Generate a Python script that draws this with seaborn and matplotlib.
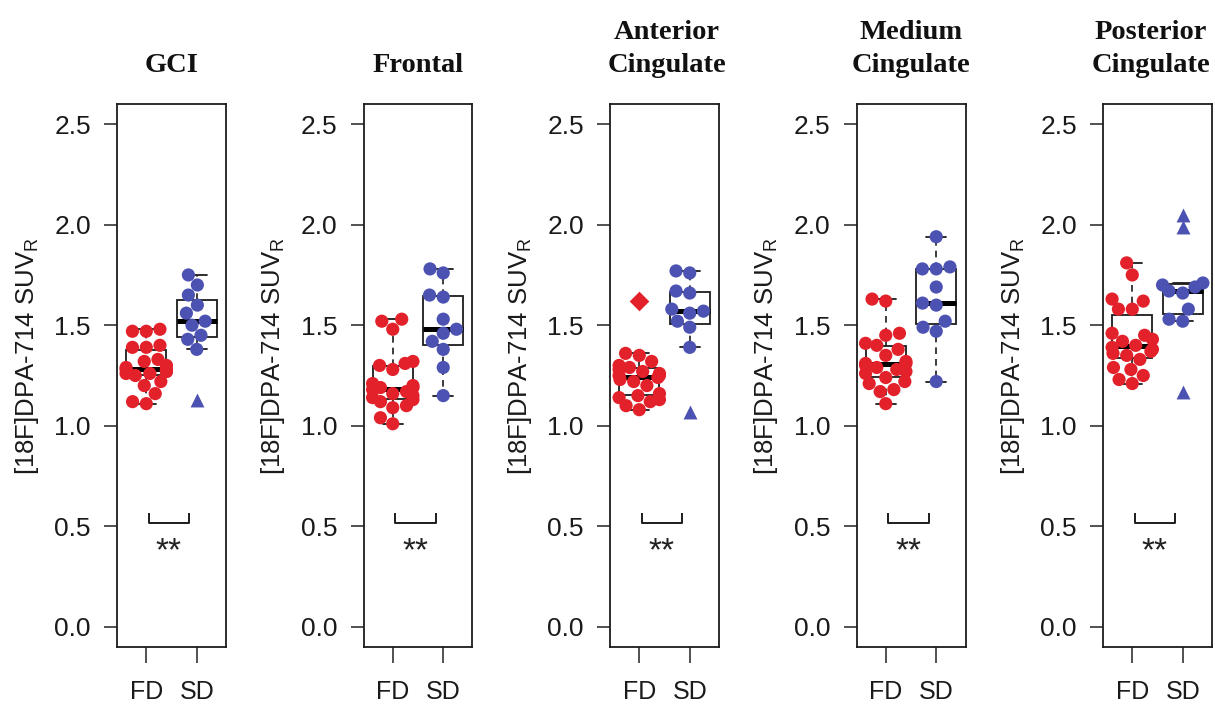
import numpy as np
import pandas as pd
import matplotlib
matplotlib.use("Agg")
import matplotlib.pyplot as plt
from matplotlib import font_manager
import seaborn as sns

# Regional [18F]DPA-714 uptake (SUV ratio) for the two groups
regions = ["GCI", "Frontal", "Anterior\nCingulate", "Medium\nCingulate", "Posterior\nCingulate"]
groups = ["FD", "SD"]

fd_gci = [1.11, 1.12, 1.16, 1.20, 1.22, 1.25, 1.26, 1.26, 1.27, 1.27, 1.28,
          1.28, 1.29, 1.30, 1.32, 1.33, 1.39, 1.39, 1.40, 1.47, 1.47, 1.48]
sd_gci = [1.75, 1.70, 1.65, 1.60, 1.56, 1.52, 1.50, 1.45, 1.43, 1.38, 1.13]

fd_frontal = [1.01, 1.04, 1.09, 1.10, 1.12, 1.13, 1.14, 1.15, 1.16, 1.17, 1.18,
              1.19, 1.19, 1.20, 1.21, 1.28, 1.30, 1.31, 1.32, 1.48, 1.52, 1.53]
sd_frontal = [1.78, 1.76, 1.65, 1.64, 1.53, 1.48, 1.46, 1.42, 1.38, 1.29, 1.15]

fd_anterior = [1.08, 1.10, 1.12, 1.13, 1.14, 1.15, 1.16, 1.20, 1.22, 1.23, 1.24,
               1.25, 1.25, 1.26, 1.27, 1.28, 1.29, 1.30, 1.32, 1.35, 1.36, 1.62]
sd_anterior = [1.77, 1.76, 1.67, 1.66, 1.58, 1.57, 1.56, 1.52, 1.49, 1.39, 1.07]

fd_medium = [1.11, 1.17, 1.18, 1.21, 1.22, 1.24, 1.26, 1.27, 1.28, 1.29, 1.30,
             1.31, 1.31, 1.32, 1.35, 1.38, 1.40, 1.41, 1.45, 1.46, 1.62, 1.63]
sd_medium = [1.94, 1.79, 1.78, 1.78, 1.69, 1.61, 1.60, 1.52, 1.49, 1.47, 1.22]

fd_posterior = [1.21, 1.23, 1.25, 1.28, 1.29, 1.33, 1.35, 1.36, 1.37, 1.38, 1.39,
                1.40, 1.42, 1.43, 1.45, 1.46, 1.58, 1.58, 1.62, 1.63, 1.75, 1.81]
sd_posterior = [2.05, 1.99, 1.71, 1.70, 1.69, 1.67, 1.66, 1.58, 1.53, 1.52, 1.17]

fd_values = [fd_gci, fd_frontal, fd_anterior, fd_medium, fd_posterior]
sd_values = [sd_gci, sd_frontal, sd_anterior, sd_medium, sd_posterior]

y_ticks = [0.0, 0.5, 1.0, 1.5, 2.0, 2.5]
y_tick_labels = ["0.0", "0.5", "1.0", "1.5", "2.0", "2.5"]
significance = ["**", "**", "**", "**", "**"]

palette = {"FD": "#E3212B", "SD": "#4C52B2"}
outlier_markers = {"FD": "D", "SD": "^"}
WHIS = 1.6

sns.set_theme(style="white")
installed = {f.name for f in font_manager.fontManager.ttflist}
sans = "Liberation Sans" if "Liberation Sans" in installed else "DejaVu Sans"
narrow = "Liberation Sans Narrow" if "Liberation Sans Narrow" in installed else sans
serif = "Liberation Serif" if "Liberation Serif" in installed else "DejaVu Serif"
plt.rcParams["font.family"] = [sans, "DejaVu Sans"]
plt.rcParams["mathtext.fontset"] = "custom"
plt.rcParams["mathtext.rm"] = sans
plt.rcParams["mathtext.it"] = sans

W, H = 1215, 704
fig = plt.figure(figsize=(W / 100, H / 100), dpi=100)
fig.patch.set_facecolor("white")

ax_left_px = [117, 363.5, 610, 856.5, 1103]
ax_w_px, ax_top_px, ax_bot_px = 109, 104, 647
# the last title sits a little left so it stays inside the figure
title_x = [0.5, 0.5, 0.52, 0.5, 0.44]

line_col = "#1c1c1c"

for i, region in enumerate(regions):
    ax = fig.add_axes([ax_left_px[i] / W, (H - ax_bot_px) / H,
                       ax_w_px / W, (ax_bot_px - ax_top_px) / H])
    df = pd.DataFrame({
        "group": ["FD"] * len(fd_values[i]) + ["SD"] * len(sd_values[i]),
        "value": list(fd_values[i]) + list(sd_values[i]),
    })

    # Split points beyond the whisker reach so they can be marked separately
    is_out = np.zeros(len(df), dtype=bool)
    for g in groups:
        mask = (df["group"] == g).to_numpy()
        v = df.loc[mask, "value"].to_numpy()
        q1, q3 = np.percentile(v, [25, 75])
        iqr = q3 - q1
        is_out[mask] = (v < q1 - WHIS * iqr) | (v > q3 + WHIS * iqr)
    inliers = df[~is_out]
    outliers = df[is_out]

    sns.boxplot(data=df, x="group", y="value", order=groups, width=0.8,
                whis=WHIS, showfliers=False, color="white", linecolor=line_col,
                linewidth=1.3, ax=ax,
                boxprops={"facecolor": "none", "edgecolor": line_col, "linewidth": 1.3},
                whiskerprops={"linestyle": (0, (4, 3)), "linewidth": 1.2, "color": line_col},
                capprops={"linewidth": 1.3, "color": line_col},
                medianprops={"linewidth": 3.6, "color": "black", "solid_capstyle": "butt"})

    sns.swarmplot(data=inliers, x="group", y="value", order=groups, hue="group",
                  palette=palette, size=9.5, linewidth=0, legend=False, ax=ax,
                  zorder=3, warn_thresh=1.0)
    for g in groups:
        sub = outliers[outliers["group"] == g]
        if len(sub):
            sns.stripplot(data=sub, x="group", y="value", order=groups, jitter=False,
                          color=palette[g], marker=outlier_markers[g], size=10,
                          linewidth=0, ax=ax, zorder=3)

    # significance bracket between the two groups
    ax.plot([0.05, 0.05, 0.85, 0.85], [0.565, 0.515, 0.515, 0.565],
            color=line_col, lw=1.4, solid_capstyle="butt")
    ax.text(0.45, 0.372, significance[i], ha="center", va="center",
            fontsize=24, color="#222222", family=[sans, "DejaVu Sans"])

    ax.set_xlim(-0.58, 1.58)
    ax.set_ylim(-0.1, 2.6)
    ax.set_yticks(y_ticks, y_tick_labels, fontsize=19, family=[narrow, sans])
    ax.set_xticks([0, 1], groups, fontsize=18, family=[narrow, sans])
    ax.tick_params(axis="y", left=True, length=9.4, width=1.2, pad=9.4,
                   color="#333333", labelcolor="#1a1a1a")
    ax.tick_params(axis="x", bottom=True, length=11.5, width=1.2, pad=12,
                   color="#333333", labelcolor="#1a1a1a")
    for sp in ax.spines.values():
        sp.set_visible(True)
        sp.set_color(line_col)
        sp.set_linewidth(1.3)

    ax.set_xlabel("")
    ax.set_ylabel(r"[18F]DPA-714 SUV$_{\mathrm{R}}$", fontsize=18.5,
                  color="#1a1a1a")
    ax.yaxis.set_label_coords(-0.70, 0.536)
    ax.set_title(region, fontfamily=serif, fontweight="bold", fontsize=20.5,
                 pad=19, va="bottom", linespacing=1.4, color="#111111",
                 x=title_x[i])
    ax.set_facecolor("white")

fig.savefig("out.png", dpi=100, facecolor="white")
